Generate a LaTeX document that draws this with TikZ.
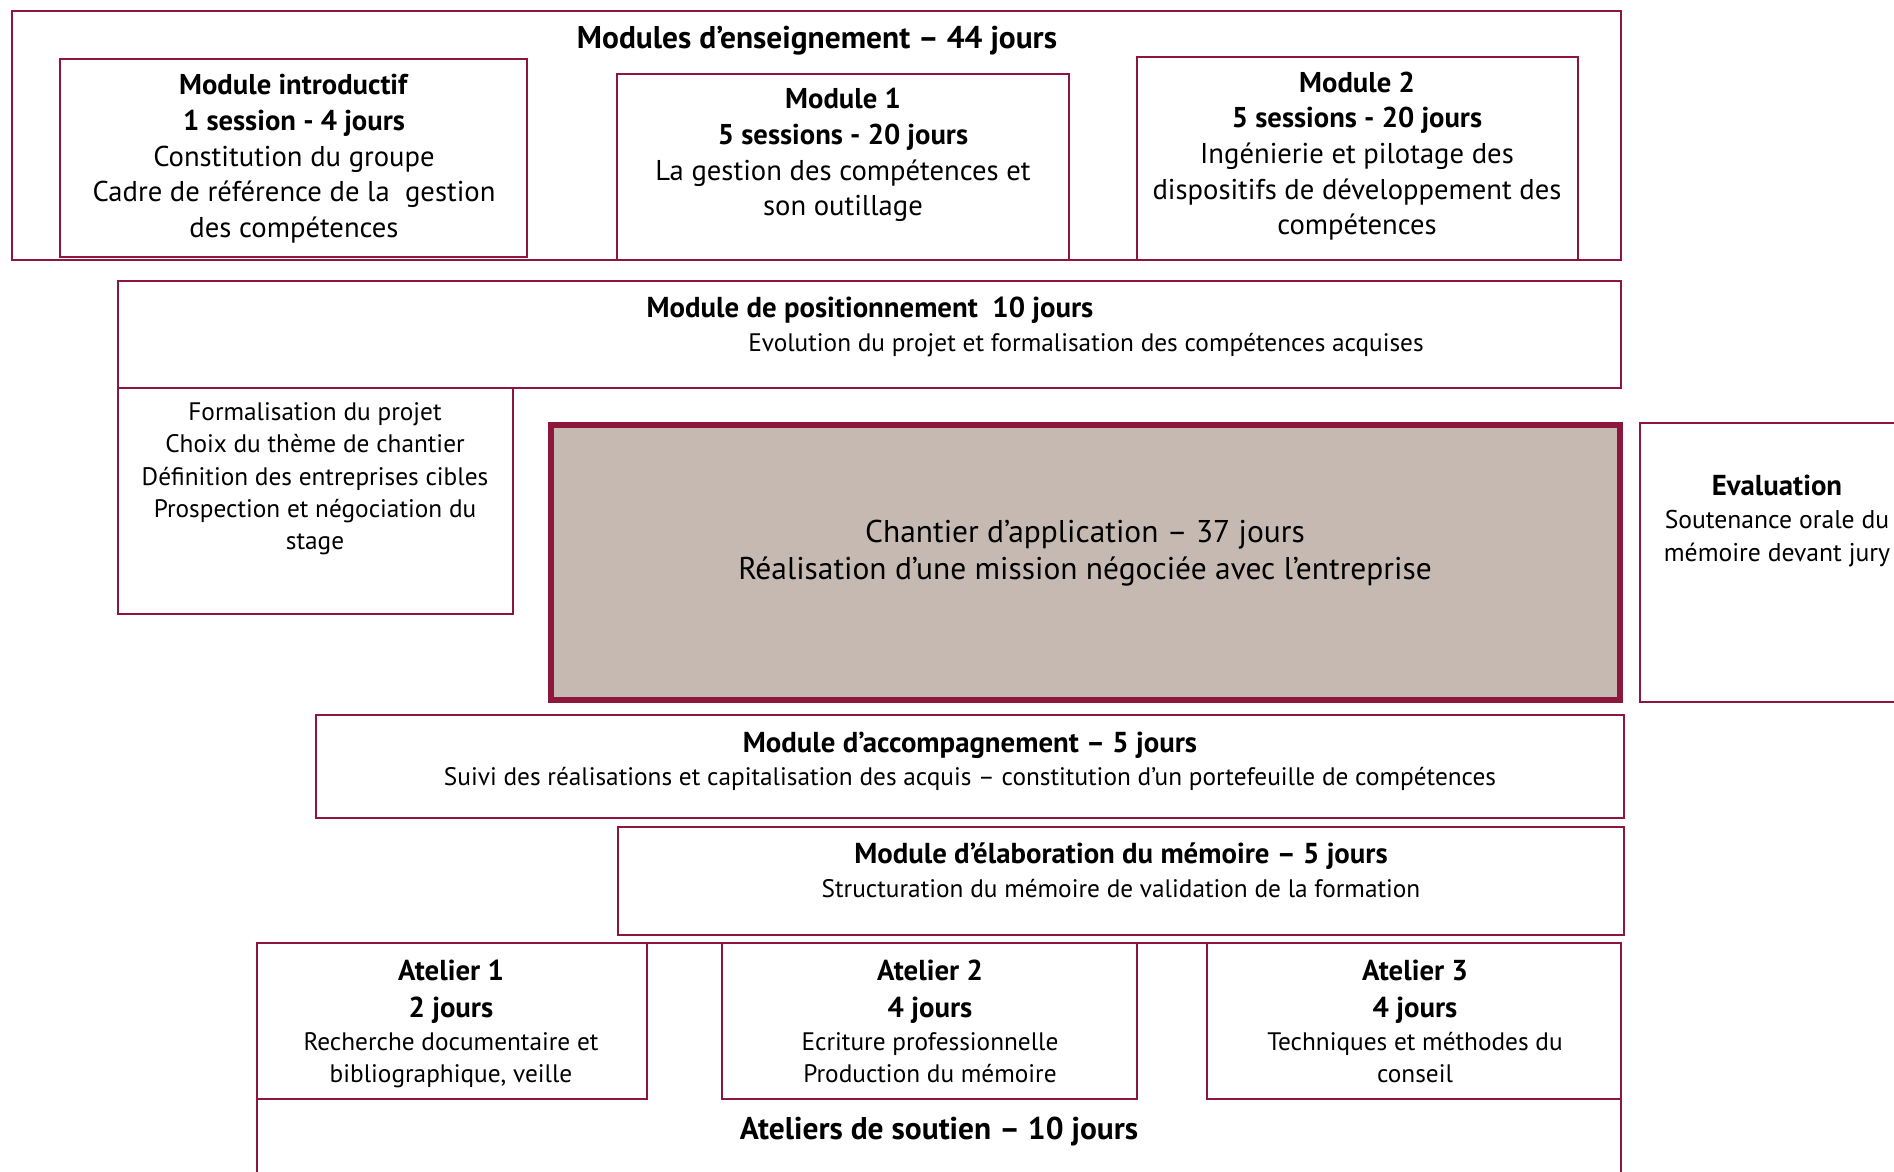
\documentclass[tikz,border=0pt]{standalone}
\usepackage{fontspec}
\setmainfont{PT Sans}
\usepackage{xcolor}
\usepackage{tikz}
\usetikzlibrary{positioning, calc}

\definecolor{bordeaux}{RGB}{140,22,60}
\definecolor{taupe}{RGB}{198,185,177}

\begin{document}
\begin{tikzpicture}[
        x=0.02cm, y=-0.02cm,
        % Styles des cadres
        cadre/.style={draw=bordeaux, line width=1.2pt},
        cadrefort/.style={draw=bordeaux, line width=3.6pt, fill=taupe},
        % Styles des textes
        titre/.style={inner sep=0pt, font=\fontsize{17.9}{21}\selectfont\bfseries},
        soustitre/.style={inner sep=0pt, font=\fontsize{16.4}{20.3}\selectfont\bfseries},
        bloc/.style={align=center, inner sep=0pt, font=\fontsize{16.3}{20.3}\selectfont},
        petit/.style={align=center, inner sep=0pt, font=\fontsize{14.4}{18.4}\selectfont},
        grand/.style={align=center, inner sep=0pt, font=\fontsize{17.9}{21.3}\selectfont}
    ]
    \useasboundingbox (0,0) rectangle (1894,1171);

    % --- 1. CADRES ---
    \draw[cadre] (12,11) rectangle (1621,260);
    \draw[cadre] (60,59) rectangle (527,257);
    \draw[cadre] (617,74) rectangle (1069,260);
    \draw[cadre] (1137,57) rectangle (1578,260);

    \draw[cadre] (118,281) rectangle (1621,388);
    \draw[cadre] (118,388) rectangle (513,614);
    \draw[cadrefort] (551,425) rectangle (1620,700);
    \draw[cadre] (1640,423) rectangle (1900,702);

    \draw[cadre] (316,715) rectangle (1624,818);
    \draw[cadre] (618,827) rectangle (1624,935);

    \draw[cadre] (257,943) rectangle (1621,1180);
    \draw[cadre] (257,943) rectangle (647,1099);
    \draw[cadre] (722,943) rectangle (1137,1099);
    \draw[cadre] (1207,943) rectangle (1621,1099);

    % --- 2. TEXTES ---
    \node[titre] (ens) at (817,41) {Modules d’enseignement – 44 jours};
    \node[bloc] (intro) at (294,159) {\textbf{Module introductif}\\\textbf{1 session - 4 jours}\\Constitution du groupe\\Cadre de référence de la\ \ gestion\\des compétences};
    \node[bloc] (mod1) at (843,155) {\textbf{Module 1}\\\textbf{5 sessions - 20 jours}\\La gestion des compétences et\\son outillage};
    \node[bloc] (mod2) at (1357,156) {\textbf{Module 2}\\\textbf{5 sessions - 20 jours}\\Ingénierie et pilotage des\\dispositifs de développement des\\compétences};

    \node[soustitre] (pos) at (870,310) {Module de positionnement\ \ 10 jours};
    \node[petit] (evol) at (1086,345) {Evolution du projet et formalisation des compétences acquises};
    \node[petit] (formal) at (315,479) {Formalisation du projet\\Choix du thème de chantier\\Définition des entreprises cibles\\Prospection et négociation du\\stage};

    \node[grand] (chant) at (1085,553) {Chantier d’application – 37 jours\\Réalisation d’une mission négociée avec l’entreprise};
    \node[petit, font=\fontsize{14.6}{18.8}\selectfont] (eval) at (1777,521) {{\fontsize{16.4}{18.8}\selectfont\textbf{Evaluation}}\\Soutenance orale du\\mémoire devant jury};

    \node[soustitre] (accomp) at (970,745) {Module d’accompagnement – 5 jours};
    \node[petit] (suivi) at (970,779) {Suivi des réalisations et capitalisation des acquis – constitution d’un portefeuille de compétences};
    \node[soustitre] (elab) at (1121,856) {Module d’élaboration du mémoire – 5 jours};
    \node[petit] (struct) at (1121,889) {Structuration du mémoire de validation de la formation};

    \node[petit] (at1) at (451,1026) {{\fontsize{16.4}{18.6}\selectfont\textbf{Atelier 1}}\\[3pt]{\fontsize{16.4}{18.6}\selectfont\textbf{2 jours}}\\Recherche documentaire et\\bibliographique, veille\strut};
    \node[petit] (at2) at (930,1026) {{\fontsize{16.4}{18.6}\selectfont\textbf{Atelier 2}}\\[3pt]{\fontsize{16.4}{18.6}\selectfont\textbf{4 jours}}\\Ecriture professionnelle\\Production du mémoire\strut};
    \node[petit] (at3) at (1415,1026) {{\fontsize{16.4}{18.6}\selectfont\textbf{Atelier 3}}\\[3pt]{\fontsize{16.4}{18.6}\selectfont\textbf{4 jours}}\\Techniques et méthodes du\\conseil\strut};
    \node[titre] (soutien) at (939,1132) {Ateliers de soutien – 10 jours};

\end{tikzpicture}
\end{document}
